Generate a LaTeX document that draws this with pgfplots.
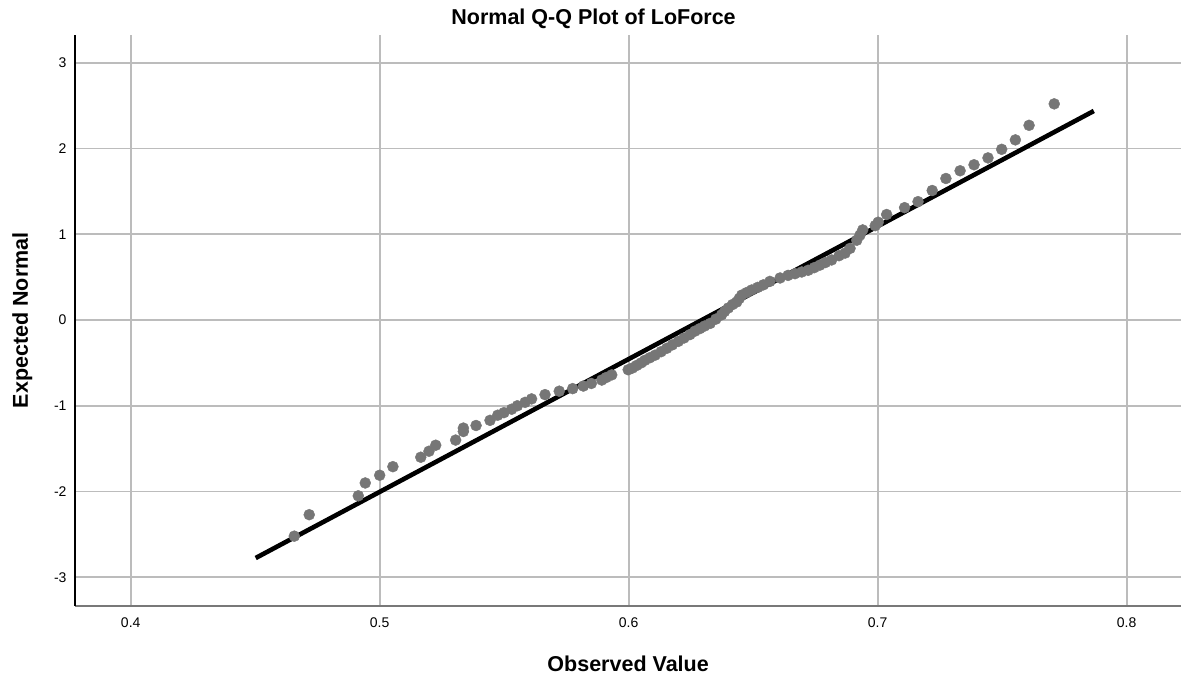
\documentclass[border=0pt]{standalone}
\usepackage{fontspec}
\setmainfont{Liberation Sans}
\usepackage{pgfplots}
\pgfplotsset{compat=1.18}
\definecolor{gridc}{RGB}{188,188,188}
\definecolor{dotc}{RGB}{118,118,118}
\definecolor{baseax}{RGB}{120,120,120}
\begin{document}
\begin{tikzpicture}
\path[use as bounding box] (-75.3pt,-75.3pt) rectangle (1111.7pt,605.7pt);
\begin{axis}[
  name=ax, at={(0pt,0pt)}, anchor=south west,
  scale only axis, width=1105.7pt, height=570.7pt,
  xmin=0.37775, xmax=0.82181, ymin=-3.331, ymax=3.323,
  clip=false,
  axis line style={draw=none},
  xtick={0.4,0.5,0.6,0.7,0.8}, xticklabels={0.4,0.5,0.6,0.7,0.8},
  ytick={-3,-2,-1,0,1,2,3}, yticklabels={-3,-2,-1,0,1,2,3},
  major tick length=0pt,
  grid=major,
  major grid style={draw=gridc, line width=1.7pt},
  xticklabel style={font=\fontsize{14}{16}\selectfont, anchor=base, inner sep=0pt, yshift=-21.6pt},
  yticklabel style={font=\fontsize{14}{16}\selectfont, anchor=east, inner sep=0pt, xshift=-8.6pt},
  every axis title shift=0pt,
  title={Normal Q-Q Plot of LoForce},
  title style={font=\fontsize{21.5}{24}\selectfont\bfseries, anchor=base, at={(axis description cs:0.4687,1)}, yshift=10pt, inner sep=0pt},
  xlabel={Observed Value},
  xlabel style={font=\fontsize{21.5}{24}\selectfont\bfseries, anchor=base, at={(axis description cs:0.5,0)}, yshift=-66pt, inner sep=0pt},
  ylabel={Expected Normal},
  ylabel style={font=\fontsize{21.5}{24}\selectfont\bfseries, anchor=base, at={(axis description cs:-0.04278,0.5)}, inner sep=0pt},
]
\addplot[only marks, mark=*, mark size=5.5pt, mark options={draw=dotc, fill=dotc}] coordinates {
(0.4657,-2.52) (0.4717,-2.27) (0.4914,-2.05) (0.4942,-1.90) (0.5000,-1.81)
(0.5053,-1.71) (0.5165,-1.60) (0.5198,-1.53) (0.5225,-1.46) (0.5305,-1.40)
(0.5336,-1.30) (0.5336,-1.26) (0.5387,-1.23) (0.5443,-1.17) (0.5474,-1.11)
(0.5499,-1.08) (0.5530,-1.04) (0.5553,-1.00) (0.5584,-0.96) (0.5610,-0.92)
(0.5664,-0.87) (0.5721,-0.83) (0.5775,-0.80) (0.5818,-0.77)
(0.5850,-0.74) (0.5892,-0.70) (0.5910,-0.67) (0.5932,-0.64) (0.5998,-0.58)
(0.6015,-0.56) (0.6032,-0.53) (0.6050,-0.50) (0.6065,-0.47) (0.6085,-0.44)
(0.6106,-0.41) (0.6130,-0.37) (0.6153,-0.33) (0.6175,-0.29) (0.6199,-0.25)
(0.6222,-0.21) (0.6246,-0.17) (0.6266,-0.13) (0.6286,-0.10) (0.6305,-0.07)
(0.6327,-0.04) (0.6350,0.01) (0.6373,0.06) (0.6385,0.10) (0.6400,0.14)
(0.6417,0.18) (0.6434,0.21) (0.6444,0.25) (0.6454,0.29) (0.6474,0.32)
(0.6494,0.35) (0.6518,0.38) (0.6541,0.41) (0.6567,0.45) (0.6608,0.49)
(0.6640,0.52) (0.6668,0.54) (0.6695,0.56) (0.6721,0.58) (0.6745,0.61)
(0.6768,0.64) (0.6790,0.67) (0.6815,0.70) (0.6845,0.75) (0.6869,0.78)
(0.6889,0.835) (0.6916,0.93) (0.6929,0.99) (0.6940,1.05) (0.6990,1.10)
(0.7002,1.14) (0.7036,1.23) (0.7108,1.31) (0.7162,1.38) (0.7219,1.51)
(0.7274,1.65) (0.7331,1.74) (0.7387,1.81) (0.7443,1.89) (0.7498,1.99)
(0.7553,2.10) (0.7608,2.27) (0.7709,2.52)
};
\addplot[black, line width=4.6pt, no marks] coordinates {(0.4502,-2.775) (0.7868,2.437)};
\draw[baseax, line width=2pt] (rel axis cs:0,0) -- (rel axis cs:1,0);
\draw[black, line width=1.7pt] (rel axis cs:0,0) -- (rel axis cs:0,1);
\end{axis}
\end{tikzpicture}
\end{document}
